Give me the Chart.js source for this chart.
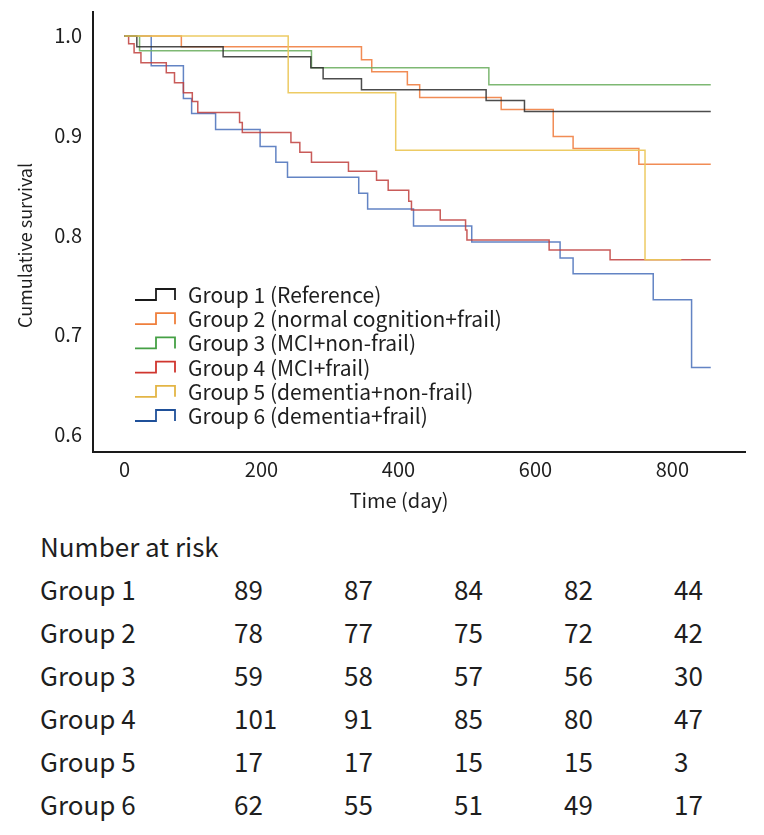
<!DOCTYPE html>
<html>
<head>
<meta charset="utf-8">
<script src="https://cdn.jsdelivr.net/npm/chart.js@4/dist/chart.umd.min.js"></script>
<style>
  html, body { margin: 0; padding: 0; background: #fff; }
  #wrap { position: relative; width: 764px; height: 835px; overflow: hidden; }
  #chartBox { position: absolute; left: 0; top: 0; width: 764px; height: 520px; }
  #risk { position: absolute; left: 0; top: 524px; width: 764px;
          font-family: "Noto Sans CJK KR", "Noto Sans", sans-serif; font-size: 26px; color: #1e1e1e; }
  .row { position: relative; height: 43px; line-height: 43px; white-space: nowrap; }
  .row span { position: absolute; top: 0; }
</style>
</head>
<body>
<div id="wrap">
  <div id="chartBox"><canvas id="c" width="764" height="520"></canvas></div>
  <div id="risk"></div>
</div>
<script>
// ---- data ----
const groupLabels = ["Group 1 (Reference)", "Group 2 (normal cognition+frail)", "Group 3 (MCI+non-frail)",
                     "Group 4 (MCI+frail)", "Group 5 (dementia+non-frail)", "Group 6 (dementia+frail)"];
const riskNames = ["Group 1", "Group 2", "Group 3", "Group 4", "Group 5", "Group 6"];
const xTickValues = [0, 200, 400, 600, 800];
const yTickValues = [0.6, 0.7, 0.8, 0.9, 1.0];

// survival step curves: time (day), cumulative survival
const g1Time = [0, 18, 144, 272, 290, 346, 528, 584, 856];
const g1Surv = [1.0, 0.989, 0.979, 0.968, 0.957, 0.946, 0.935, 0.924, 0.924];
const g2Time = [0, 83, 346, 361, 413, 431, 550, 626, 655, 751, 856];
const g2Surv = [1.0, 0.989, 0.976, 0.964, 0.951, 0.938, 0.926, 0.899, 0.887, 0.871, 0.871];
const g3Time = [0, 22, 273, 532, 856];
const g3Surv = [1.0, 0.985, 0.968, 0.951, 0.951];
const g4Time = [0, 6, 14, 24, 61, 73, 86, 99, 107, 168, 172, 243, 256, 273, 327, 368, 385, 415, 419, 461, 498, 500, 620, 709, 856];
const g4Surv = [1.0, 0.992, 0.983, 0.973, 0.963, 0.953, 0.943, 0.934, 0.923, 0.913, 0.903, 0.893, 0.883, 0.873, 0.864, 0.855, 0.845, 0.834, 0.825, 0.815, 0.805, 0.795, 0.785, 0.775, 0.775];
const g5Time = [0, 239, 396, 760, 813];
const g5Surv = [1.0, 0.943, 0.885, 0.775, 0.775];
const g6Time = [0, 39, 86, 98, 133, 198, 221, 238, 342, 355, 422, 507, 636, 655, 772, 828, 856];
const g6Surv = [1.0, 0.970, 0.937, 0.922, 0.906, 0.889, 0.873, 0.858, 0.842, 0.826, 0.809, 0.793, 0.777, 0.761, 0.735, 0.667, 0.667];

// number at risk
const risk1 = [89, 87, 84, 82, 44];
const risk2 = [78, 77, 75, 72, 42];
const risk3 = [59, 58, 57, 56, 30];
const risk4 = [101, 91, 85, 80, 47];
const risk5 = [17, 17, 15, 15, 3];
const risk6 = [62, 55, 51, 49, 17];

// ---- styles ----
const lineColors = ["rgba(45,45,45,0.85)", "rgba(240,128,66,0.9)", "rgba(112,176,100,0.9)",
                    "rgba(192,62,60,0.85)", "rgba(236,200,92,0.95)", "rgba(72,110,186,0.85)"];
const legendColors = ["#1a1a1a", "#ef7f3c", "#45a045", "#d0362f", "#e3b545", "#1f5099"];
const FONT = '"Noto Sans CJK KR", "Noto Sans", sans-serif';

const times = [g1Time, g2Time, g3Time, g4Time, g5Time, g6Time];
const survs = [g1Surv, g2Surv, g3Surv, g4Surv, g5Surv, g6Surv];
const drawOrder = [2, 4, 3, 5, 1, 6];

const datasets = times.map((t, i) => ({
  label: groupLabels[i],
  data: t.map((x, j) => ({ x: x, y: survs[i][j] })),
  borderColor: lineColors[i],
  backgroundColor: lineColors[i],
  borderWidth: 1.5,
  pointRadius: 0,
  pointHoverRadius: 0,
  stepped: true,
  fill: false,
  order: drawOrder[i]
}));

const stepLegend = {
  id: 'stepLegend',
  afterDatasetsDraw(chart) {
    const ctx = chart.ctx;
    const a = chart.chartArea;
    const x0 = a.left + 42;
    const rowH = 24.2;
    const firstY = a.bottom - 37 - rowH * 5;
    ctx.save();
    ctx.font = '21px ' + FONT;
    ctx.textBaseline = 'middle';
    ctx.textAlign = 'left';
    groupLabels.forEach((lab, i) => {
      const cy = firstY + i * rowH;
      ctx.strokeStyle = legendColors[i];
      ctx.lineWidth = 1.8;
      ctx.beginPath();
      ctx.moveTo(x0, cy + 6);
      ctx.lineTo(x0 + 21, cy + 6);
      ctx.lineTo(x0 + 21, cy - 5);
      ctx.lineTo(x0 + 40, cy - 5);
      ctx.lineTo(x0 + 40, cy + 6);
      ctx.stroke();
      ctx.fillStyle = '#1e1e1e';
      ctx.fillText(lab, x0 + 53, cy + 1);
    });
    ctx.restore();
  }
};

new Chart(document.getElementById('c'), {
  type: 'line',
  data: { datasets: datasets },
  options: {
    responsive: false,
    animation: false,
    layout: { padding: { top: 12, right: 19, left: 0, bottom: 0 } },
    plugins: { legend: { display: false }, tooltip: { enabled: false } },
    scales: {
      x: {
        type: 'linear', min: -46, max: 906,
        afterBuildTicks: s => { s.ticks = xTickValues.map(v => ({ value: v })); },
        afterFit: s => { s.height = 68; s.paddingLeft = 0; s.paddingRight = 0; },
        grid: { display: true, color: 'rgba(0,0,0,0)', drawTicks: false },
        border: { display: true, color: '#1a1a1a', width: 2 },
        ticks: { padding: 5, color: '#1e1e1e', font: { family: FONT, size: 20 }, maxRotation: 0 },
        title: { display: true, text: 'Time (day)\u2003\u2003', color: '#1e1e1e',
                 font: { family: FONT, size: 20 }, padding: { top: 0, bottom: 8 } }
      },
      y: {
        type: 'linear', min: 0.582, max: 1.024,
        afterBuildTicks: s => { s.ticks = yTickValues.map(v => ({ value: v })); },
        afterFit: s => { s.width = 93; s.paddingTop = 0; s.paddingBottom = 0; },
        grid: { display: true, color: 'rgba(0,0,0,0)', drawTicks: false },
        border: { display: true, color: '#1a1a1a', width: 2 },
        ticks: { padding: 11, color: '#1e1e1e', font: { family: FONT, size: 20 },
                 callback: v => Number(v).toFixed(1) },
        title: { display: true, text: 'Cumulative survival\u2003\u2002', color: '#1e1e1e',
                 font: { family: FONT, size: 18 }, padding: { top: 14, bottom: 0 } }
      }
    }
  },
  plugins: [stepLegend]
});

// number-at-risk table
const riskRows = [risk1, risk2, risk3, risk4, risk5, risk6];
const colX = [234, 344, 454, 564, 674];
const riskEl = document.getElementById('risk');
function addRow(cells) {
  const r = document.createElement('div');
  r.className = 'row';
  cells.forEach(c => {
    const s = document.createElement('span');
    s.style.left = c[0] + 'px';
    s.textContent = c[1];
    r.appendChild(s);
  });
  riskEl.appendChild(r);
}
addRow([[40, 'Number at risk']]);
riskRows.forEach((vals, i) => {
  addRow([[40, riskNames[i]]].concat(vals.map((v, j) => [colX[j], String(v)])));
});
</script>
</body>
</html>
